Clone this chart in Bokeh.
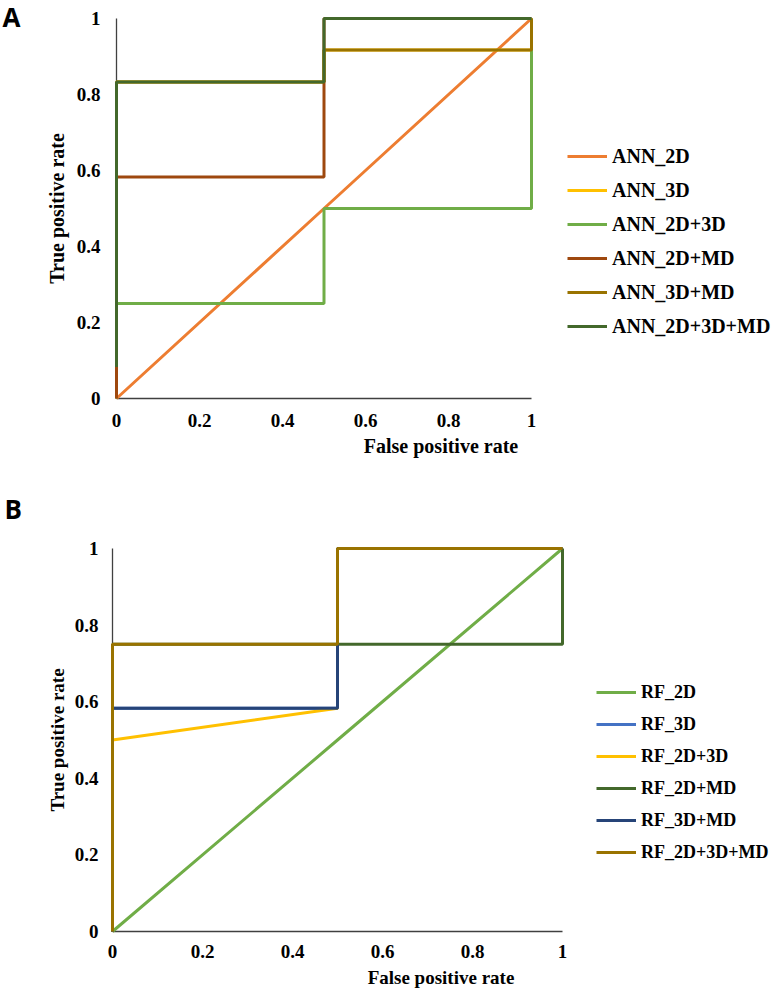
from bokeh.plotting import figure
from bokeh.models import Range1d, Legend, LegendItem, Label, FixedTicker
from bokeh.layouts import column
from bokeh.embed import file_html
from bokeh.resources import INLINE

# ---------------- data ----------------
TICKS = [0, 0.2, 0.4, 0.6, 0.8, 1]
TICK_LABELS = ["0", "0.2", "0.4", "0.6", "0.8", "1"]

ann_names = ["ANN_2D", "ANN_3D", "ANN_2D+3D", "ANN_2D+MD", "ANN_3D+MD", "ANN_2D+3D+MD"]
ann_fpr = [
    [0, 0.5, 1],
    [0, 0, 0.5, 0.5, 1, 1],
    [0, 0, 0.5, 0.5, 1, 1],
    [0, 0, 0.5, 0.5, 1],
    [0, 0, 0.5, 0.5, 1, 1],
    [0, 0, 0.5, 0.5, 1],
]
ann_tpr = [
    [0, 0.5, 1],
    [0.083, 0.833, 0.833, 0.917, 0.917, 1],
    [0, 0.25, 0.25, 0.5, 0.5, 1],
    [0, 0.583, 0.583, 1, 1],
    [0.083, 0.833, 0.833, 0.917, 0.917, 1],
    [0.083, 0.833, 0.833, 1, 1],
]
ann_colors = ["#ED7D31", "#FFC000", "#70AD47", "#9E480E", "#997300", "#43682B"]

rf_names = ["RF_2D", "RF_3D", "RF_2D+3D", "RF_2D+MD", "RF_3D+MD", "RF_2D+3D+MD"]
rf_fpr = [
    [0, 0.5, 1],
    [0, 0, 0.5, 0.5, 1],
    [0, 0, 0.5, 0.5, 1],
    [0, 0, 0.5, 1, 1],
    [0, 0, 0.5, 0.5, 1],
    [0, 0, 0.5, 0.5, 1],
]
rf_tpr = [
    [0, 0.5, 1],
    [0, 0.583, 0.583, 1, 1],
    [0, 0.5, 0.583, 1, 1],
    [0, 0.75, 0.75, 0.75, 1],
    [0, 0.583, 0.583, 1, 1],
    [0, 0.75, 0.75, 1, 1],
]
rf_colors = ["#70AD47", "#4472C4", "#FFC000", "#43682B", "#264478", "#997300"]

X_TITLE = "False positive rate"
Y_TITLE = "True positive rate"

SERIF = "Liberation Serif"
W = 771
FRAME_L = 110          # shared frame left
FRAME_R = W            # frame reaches the right edge (legend lives inside it)


def build(tag, names, fprs, tprs, colors, top_s, H, x0s, x1s, y1s, y0s,
          xl_standoff, xt_standoff, yl_standoff, yt_standoff, title_size,
          leg_left_s, leg_first_s, leg_spacing, leg_font, leg_glyph_w,
          tag_x, tag_y):
    pad = 2
    fl = FRAME_L
    fr = FRAME_R
    ft = y1s - top_s - pad
    fb = y0s - top_s + pad
    ux = x1s - x0s
    uy = y0s - y1s
    xr = Range1d((FRAME_L - x0s) / ux, 1 + (FRAME_R - x1s) / ux)
    yr = Range1d(-pad / uy, 1 + pad / uy)
    p = figure(width=W, height=H, output_backend="svg", toolbar_location=None,
               x_range=xr, y_range=yr,
               min_border_left=fl, min_border_right=0,
               min_border_top=ft, min_border_bottom=H - fb)
    p.xgrid.visible = False
    p.ygrid.visible = False
    p.outline_line_color = None
    p.background_fill_color = "white"
    p.border_fill_color = "white"

    overrides = {t: l for t, l in zip(TICKS, TICK_LABELS)}
    for ax in (p.xaxis[0], p.yaxis[0]):
        ax.ticker = FixedTicker(ticks=TICKS)
        ax.major_label_overrides = overrides
        ax.axis_line_color = None
        ax.major_tick_line_color = None
        ax.minor_tick_line_color = None
        ax.major_tick_out = 0
        ax.major_tick_in = 0
        ax.minor_tick_out = 0
        ax.minor_tick_in = 0
        ax.major_label_text_font = SERIF
        ax.major_label_text_font_style = "bold"
        ax.major_label_text_font_size = "19px"
        ax.major_label_text_color = "#000000"
        ax.axis_label_text_font = SERIF
        ax.axis_label_text_font_style = "bold"
        ax.axis_label_text_font_size = title_size
        ax.axis_label_text_color = "#000000"
    p.xaxis[0].axis_label = X_TITLE
    p.yaxis[0].axis_label = Y_TITLE
    p.xaxis[0].major_label_standoff = xl_standoff
    p.xaxis[0].axis_label_standoff = xt_standoff
    p.yaxis[0].major_label_standoff = yl_standoff
    p.yaxis[0].axis_label_standoff = yt_standoff

    # axis lines at the data origin
    p.line([0, 0], [0, 1], line_color="#404040", line_width=1.3)
    p.line([0, 1], [0, 0], line_color="#404040", line_width=1.3)

    items = []
    for n, xv, yv, c in zip(names, fprs, tprs, colors):
        r = p.line(xv, yv, line_color=c, line_width=3)
        items.append(LegendItem(label=n, renderers=[r]))

    n = len(items)
    lh = n * 24 + (n - 1) * leg_spacing
    leg_top = leg_first_s - top_s - 12
    vy = fb - (leg_top + lh)
    vx = leg_left_s - fl
    legend = Legend(items=items, location=(vx, vy), glyph_width=leg_glyph_w, glyph_height=24,
                    label_height=24, label_standoff=5, spacing=leg_spacing, padding=0,
                    margin=0, border_line_color=None, background_fill_alpha=0,
                    label_text_font=SERIF, label_text_font_style="bold",
                    label_text_font_size=leg_font, label_text_color="#000000")
    p.add_layout(legend)

    lab = Label(x=tag_x, y=fb - tag_y, x_units="screen", y_units="screen",
                text=tag, text_font="Open Sans", text_font_style="bold",
                text_font_size="26px", text_color="#000000",
                text_align="left", text_baseline="alphabetic")
    p.add_layout(lab, "left")
    return p


HA = 462
HB = 531
pA = build("A", ann_names, ann_fpr, ann_tpr, ann_colors, 0, HA,
           116, 531, 18, 398, 13, 5, 10, 6, "20px",
           567, 156, 10, "20px", 40, -22, 16)
pB = build("B", rf_names, rf_fpr, rf_tpr, rf_colors, HA, HB,
           112, 562, 548, 931, 11, 6, 12, 4, "19px",
           596, 692, 8, "18px", 40, -22, 46)

layout = column(pA, pB, spacing=0)
open("out.html", "w").write(file_html(layout, INLINE))
